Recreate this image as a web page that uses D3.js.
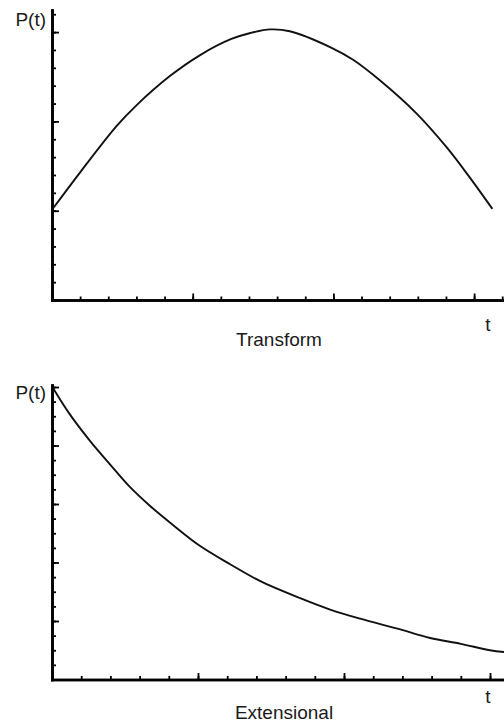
<!DOCTYPE html>
<html>
<head>
<meta charset="utf-8">
<script src="https://cdn.jsdelivr.net/npm/d3@7"></script>
<style>
  html, body { margin: 0; padding: 0; background: #fff; }
  svg { display: block; }
  text { font-family: "Liberation Sans", Arial, sans-serif; fill: #1a1a1a; }
</style>
</head>
<body>
<svg id="chart" width="504" height="723"></svg>
<script>
// ---- Data ----
// Panel 1: "Transform"
const transformT = [0, 0.20, 0.46, 0.60, 0.84, 1.05, 1.27, 1.41, 1.55, 1.69, 1.98, 2.14, 2.33, 2.59, 2.81, 2.97, 3.13];
const transformP = [1.01, 1.43, 1.95, 2.18, 2.51, 2.74, 2.92, 2.99, 3.03, 3.01, 2.83, 2.69, 2.46, 2.09, 1.70, 1.37, 1.02];
// Panel 2: "Extensional"
const extensionalT = [0.01, 0.12, 0.26, 0.40, 0.53, 0.67, 0.81, 1.01, 1.22, 1.42, 1.70, 1.90, 2.11, 2.38, 2.59, 2.80, 3.00, 3.10];
const extensionalP = [4.97, 4.54, 4.08, 3.67, 3.30, 2.97, 2.68, 2.29, 1.97, 1.69, 1.39, 1.20, 1.04, 0.86, 0.71, 0.61, 0.50, 0.47];

// Axis tick positions (no tick labels are shown)
const topXMajor = [0, 1, 2, 3];
const topXMinor = d3.range(0, 3.21, 0.2);
const topYMajor = [0, 1, 2, 3];
const topYMinor = d3.range(0, 3.21, 0.2);
const botXMajor = [0, 1, 2, 3];
const botXMinor = d3.range(0, 3.09, 0.2);
const botYMajor = [0, 1, 2, 3, 4, 5];
const botYMinor = d3.range(0, 5.01, 0.25);

const titles = ["Transform", "Extensional"];
const yLabel = "P(t)";
const xLabel = "t";

const svg = d3.select("#chart");

function panel(cfg) {
  const g = svg.append("g");
  const x = d3.scaleLinear().domain(cfg.xDomain).range([cfg.x0, cfg.x1]);
  const y = d3.scaleLinear().domain(cfg.yDomain).range([cfg.y0, cfg.y1]);

  const xMinor = g.append("g").attr("transform", `translate(0,${cfg.y0})`)
    .call(d3.axisBottom(x).tickValues(cfg.xMinor).tickSize(-3.5).tickSizeOuter(0).tickFormat(""));
  const xMajor = g.append("g").attr("transform", `translate(0,${cfg.y0})`)
    .call(d3.axisBottom(x).tickValues(cfg.xMajor).tickSize(-6.5).tickSizeOuter(0).tickFormat(""));
  const yMinor = g.append("g").attr("transform", `translate(${cfg.x0},0)`)
    .call(d3.axisLeft(y).tickValues(cfg.yMinor).tickSize(-4).tickSizeOuter(0).tickFormat(""));
  const yMajor = g.append("g").attr("transform", `translate(${cfg.x0},0)`)
    .call(d3.axisLeft(y).tickValues(cfg.yMajor).tickSize(-7).tickSizeOuter(0).tickFormat(""));

  [xMinor, xMajor, yMinor, yMajor].forEach(a => {
    a.selectAll(".tick line").attr("stroke", "#000").attr("stroke-width", 1.8);
    a.select(".domain").attr("stroke", "#000").attr("stroke-width", 2.6).attr("stroke-linecap", "square");
  });

  const line = d3.line()
    .x((d, i) => x(cfg.t[i]))
    .y((d, i) => y(cfg.p[i]))
    .curve(d3.curveCatmullRom.alpha(0.5));
  g.append("path")
    .attr("d", line(cfg.p))
    .attr("fill", "none")
    .attr("stroke", "#111")
    .attr("stroke-width", 1.9)
    .attr("stroke-linejoin", "round");

  g.append("text").attr("x", 46).attr("y", cfg.pLabelY)
    .attr("text-anchor", "end").attr("font-size", 19).text(yLabel);
  g.append("text").attr("x", 488).attr("y", cfg.tLabelY)
    .attr("text-anchor", "middle").attr("font-size", 19).text(xLabel);
  g.append("text").attr("x", cfg.titleX).attr("y", cfg.titleY)
    .attr("text-anchor", "middle").attr("font-size", 19).text(cfg.title);
}

panel({
  t: transformT, p: transformP,
  xDomain: [0, (504 - 52) / 140.7], x0: 52, x1: 504,
  yDomain: [0, (300 - 10) / 89.3], y0: 300, y1: 10,
  xMajor: topXMajor, xMinor: topXMinor, yMajor: topYMajor, yMinor: topYMinor,
  pLabelY: 26, tLabelY: 331, title: titles[0], titleX: 279, titleY: 346
});

panel({
  t: extensionalT, p: extensionalP,
  xDomain: [0, (504 - 52) / 146], x0: 52, x1: 504,
  yDomain: [0, (679.5 - 385) / 58.5], y0: 679.5, y1: 385,
  xMajor: botXMajor, xMinor: botXMinor, yMajor: botYMajor, yMinor: botYMinor,
  pLabelY: 399, tLabelY: 703, title: titles[1], titleX: 284, titleY: 719
});
</script>
</body>
</html>
